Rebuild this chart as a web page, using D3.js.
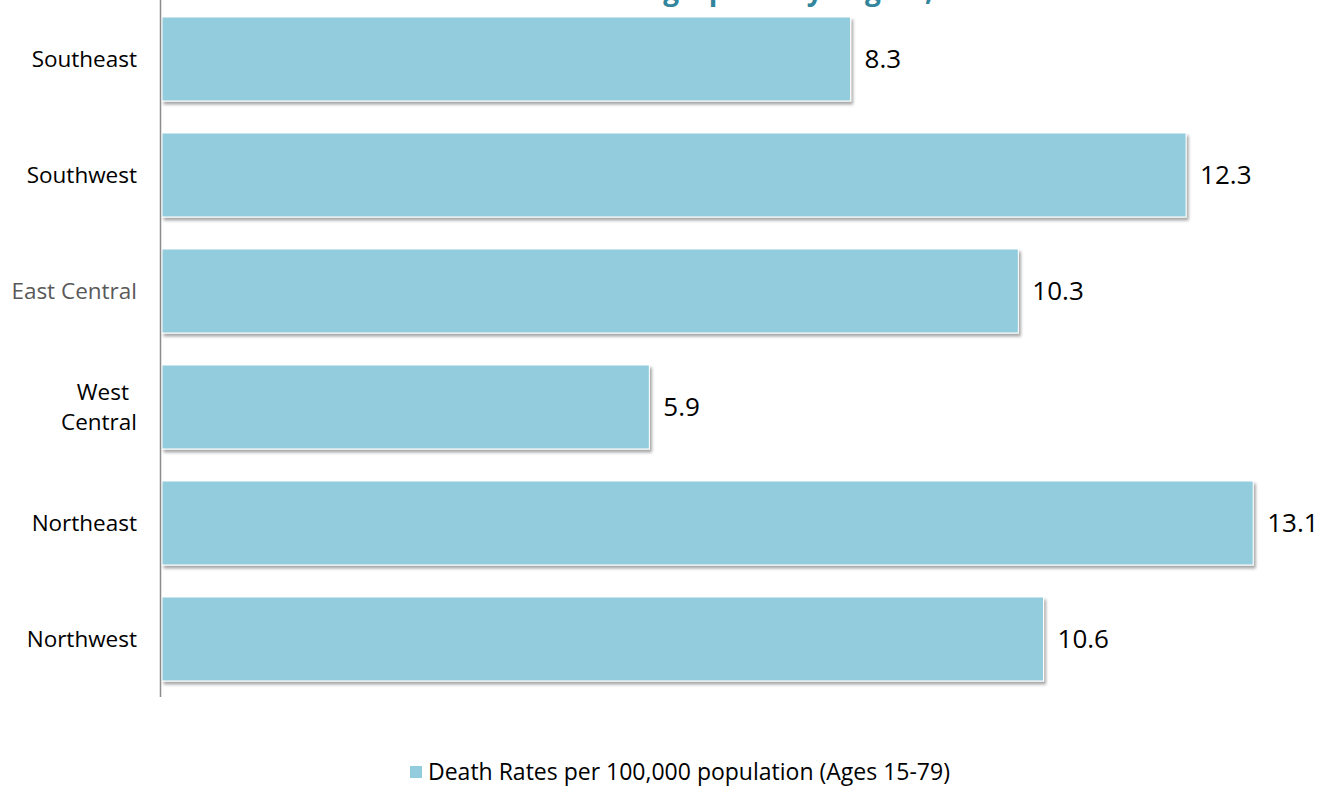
<!DOCTYPE html>
<html><head><meta charset="utf-8">
<script src="https://cdn.jsdelivr.net/npm/d3@7"></script>
<style>body{margin:0;background:#fff;} svg{display:block;}</style>
</head><body>
<svg id="chart" width="1335" height="789"></svg>
<script>
const categories = ["Southeast","Southwest","East Central","West Central","Northeast","Northwest"];
const values = [8.3, 12.3, 10.3, 5.9, 13.1, 10.6];
const seriesName = "Death Rates per 100,000 population (Ages 15-79)";
const titleText = "Suicide Demographics by Region,";

const svg = d3.select("#chart");
const font = "'Open Sans', sans-serif";
const barColor = "#93CDDD";

const defs = svg.append("defs");
const f = defs.append("filter").attr("id","sh").attr("x","-5%").attr("y","-20%").attr("width","115%").attr("height","150%");
f.append("feDropShadow").attr("dx",2).attr("dy",3).attr("stdDeviation",1.8).attr("flood-color","#000").attr("flood-opacity",0.35);

const x = d3.scaleLinear().domain([0, 14]).range([154.5, 154.5 + 14*83.87]);
const y = d3.scaleBand().domain(categories).range([1, 697]).paddingInner(0.276).paddingOuter(0.138);
const x0 = 162;

// title (mostly clipped at top, as in the reference)
svg.append("text").attr("x", 933).attr("y", 0).attr("text-anchor","end")
  .attr("font-family", font).attr("font-weight","bold").attr("font-size",28)
  .attr("fill","#31859C").text(titleText);

svg.selectAll("rect.bar").data(values).join("rect").attr("class","bar")
  .attr("x", x0).attr("y",(d,i)=>y(categories[i]))
  .attr("width", d=>x(d)-x0).attr("height", y.bandwidth())
  .attr("fill", barColor).attr("stroke","#ffffff").attr("stroke-width",1)
  .attr("filter","url(#sh)");

svg.selectAll("text.val").data(values).join("text").attr("class","val")
  .attr("x", d=>x(d)+14).attr("y",(d,i)=>y(categories[i])+y.bandwidth()/2)
  .attr("dy","0.36em").attr("font-family",font).attr("font-size",26).attr("fill","#000")
  .text(d=>d.toFixed(1));

// axis line
svg.append("line").attr("x1",160.5).attr("x2",160.5).attr("y1",0).attr("y2",697)
  .attr("stroke","#8c8c8c").attr("stroke-width",1.5);

// category labels
const labelLines = {"West Central":["West","Central"]};
categories.forEach((c,i)=>{
  const cy = y(c)+y.bandwidth()/2;
  const lines = labelLines[c] || [c];
  const t = svg.append("text").attr("text-anchor", "end")
    .attr("font-family",font).attr("font-size",22.5)
    .attr("fill", c==="East Central" ? "#595959" : "#000");
  lines.forEach((l,j)=>{
    const ax = (lines.length>1 && j===0) ? 129 : 137;
    t.append("tspan").attr("x", ax)
      .attr("y", cy + (j-(lines.length-1)/2)*30).attr("dy","0.35em").text(l);
  });
});

// legend
const lg = svg.append("g");
lg.append("rect").attr("x",410).attr("y",766).attr("width",12).attr("height",12).attr("fill",barColor);
lg.append("text").attr("x",428).attr("y",772).attr("dy","0.35em").attr("font-family",font)
  .attr("font-size",23).attr("fill","#000").text(seriesName);
</script>
</body></html>
